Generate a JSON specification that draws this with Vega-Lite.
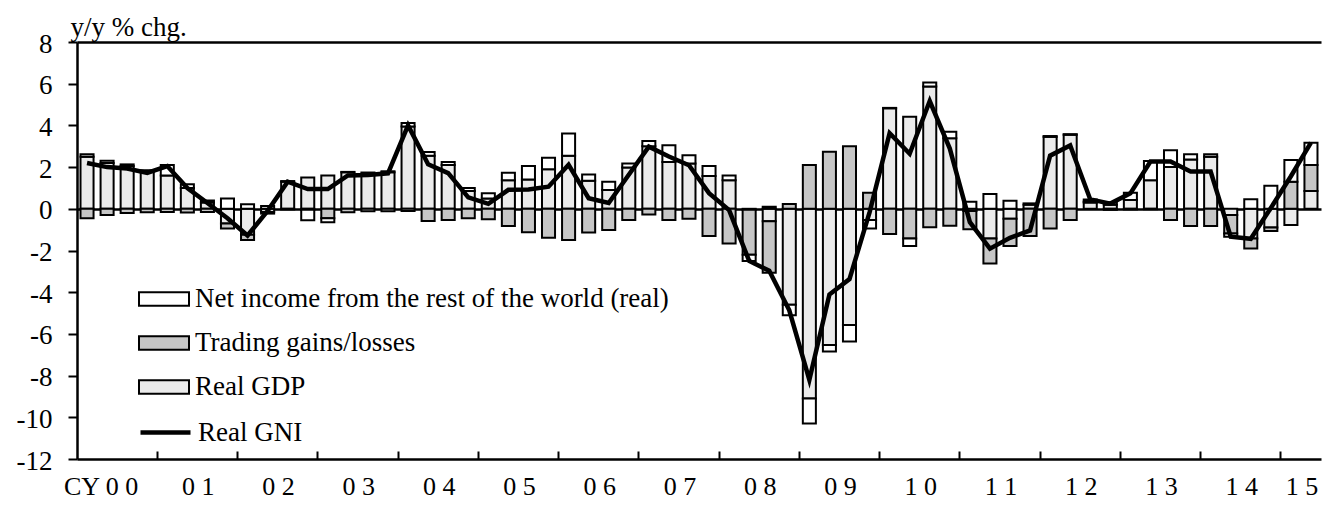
{
  "$schema": "https://vega.github.io/schema/vega-lite/v6.json",
  "width": 1244,
  "height": 417,
  "autosize": "none",
  "padding": {"left": 77, "top": 42, "right": 2, "bottom": 47},
  "background": "white",
  "config": {
    "view": {"stroke": null},
    "font": "Liberation Serif",
    "axis": {"labelFont": "Liberation Serif", "titleFont": "Liberation Serif", "labelColor": "black", "titleColor": "black"},
    "axisY": {
      "values": [-12, -10, -8, -6, -4, -2, 0, 2, 4, 6, 8],
      "title": "y/y % chg.",
      "titleAngle": 0,
      "titleAlign": "left",
      "titleBaseline": "alphabetic",
      "titleX": -7,
      "titleY": -7,
      "titleFontSize": 27,
      "titleFontWeight": "normal",
      "labelFontSize": 27,
      "labelPadding": 16,
      "labelOffset": 2,
      "tickSize": 9,
      "tickWidth": 2,
      "tickColor": "black",
      "domainColor": "black",
      "domainWidth": 2.5,
      "grid": true,
      "gridColor": "black",
      "gridWidth": 2.5,
      "zindex": 1
    },
    "legend": {"labelFont": "Liberation Serif", "labelColor": "black"}
  },
  "datasets": {
    "rows": [
      {"q": "2000Q1", "gdp": 2.5, "tg": -0.45, "ni": 0.12, "gni": 2.2},
      {"q": "2000Q2", "gdp": 2.2, "tg": -0.3, "ni": 0.1, "gni": 2.0},
      {"q": "2000Q3", "gdp": 2.05, "tg": -0.2, "ni": 0.08, "gni": 1.93},
      {"q": "2000Q4", "gdp": 1.8, "tg": -0.17, "ni": 0.05, "gni": 1.72},
      {"q": "2001Q1", "gdp": 1.6, "tg": -0.15, "ni": 0.5, "gni": 2.05},
      {"q": "2001Q2", "gdp": 1.0, "tg": -0.18, "ni": 0.18, "gni": 1.0},
      {"q": "2001Q3", "gdp": 0.3, "tg": -0.15, "ni": 0.1, "gni": 0.28},
      {"q": "2001Q4", "gdp": -0.7, "tg": -0.25, "ni": 0.5, "gni": -0.45},
      {"q": "2002Q1", "gdp": -1.25, "tg": -0.25, "ni": 0.22, "gni": -1.28},
      {"q": "2002Q2", "gdp": -0.15, "tg": -0.08, "ni": 0.13, "gni": -0.1},
      {"q": "2002Q3", "gdp": 1.3, "tg": -0.03, "ni": 0.03, "gni": 1.3},
      {"q": "2002Q4", "gdp": 1.5, "tg": -0.05, "ni": -0.5, "gni": 0.95},
      {"q": "2003Q1", "gdp": 1.6, "tg": -0.45, "ni": -0.2, "gni": 0.95},
      {"q": "2003Q2", "gdp": 1.75, "tg": -0.17, "ni": 0.02, "gni": 1.6},
      {"q": "2003Q3", "gdp": 1.68, "tg": -0.12, "ni": 0.06, "gni": 1.62},
      {"q": "2003Q4", "gdp": 1.75, "tg": -0.12, "ni": 0.05, "gni": 1.7},
      {"q": "2004Q1", "gdp": 3.95, "tg": -0.1, "ni": 0.17, "gni": 4.0},
      {"q": "2004Q2", "gdp": 2.55, "tg": -0.59, "ni": 0.18, "gni": 2.14},
      {"q": "2004Q3", "gdp": 2.1, "tg": -0.54, "ni": 0.15, "gni": 1.71},
      {"q": "2004Q4", "gdp": 0.85, "tg": -0.45, "ni": 0.15, "gni": 0.55},
      {"q": "2005Q1", "gdp": 0.5, "tg": -0.5, "ni": 0.24, "gni": 0.24},
      {"q": "2005Q2", "gdp": 1.37, "tg": -0.82, "ni": 0.36, "gni": 0.91},
      {"q": "2005Q3", "gdp": 1.4, "tg": -1.12, "ni": 0.65, "gni": 0.93},
      {"q": "2005Q4", "gdp": 1.9, "tg": -1.39, "ni": 0.55, "gni": 1.06},
      {"q": "2006Q1", "gdp": 2.54, "tg": -1.5, "ni": 1.07, "gni": 2.11},
      {"q": "2006Q2", "gdp": 1.34, "tg": -1.14, "ni": 0.31, "gni": 0.51},
      {"q": "2006Q3", "gdp": 0.9, "tg": -1.02, "ni": 0.4, "gni": 0.28},
      {"q": "2006Q4", "gdp": 1.98, "tg": -0.54, "ni": 0.19, "gni": 1.63},
      {"q": "2007Q1", "gdp": 3.0, "tg": -0.27, "ni": 0.25, "gni": 2.98},
      {"q": "2007Q2", "gdp": 2.25, "tg": -0.54, "ni": 0.8, "gni": 2.51},
      {"q": "2007Q3", "gdp": 2.17, "tg": -0.48, "ni": 0.4, "gni": 2.09},
      {"q": "2007Q4", "gdp": 1.57, "tg": -1.3, "ni": 0.48, "gni": 0.75},
      {"q": "2008Q1", "gdp": 1.37, "tg": -1.66, "ni": 0.23, "gni": -0.06},
      {"q": "2008Q2", "gdp": -0.05, "tg": -2.15, "ni": -0.3, "gni": -2.5},
      {"q": "2008Q3", "gdp": -0.6, "tg": -2.47, "ni": 0.1, "gni": -2.97},
      {"q": "2008Q4", "gdp": -4.6, "tg": 0.23, "ni": -0.5, "gni": -4.87},
      {"q": "2009Q1", "gdp": -9.1, "tg": 2.1, "ni": -1.2, "gni": -8.2},
      {"q": "2009Q2", "gdp": -6.53, "tg": 2.74, "ni": -0.32, "gni": -4.11},
      {"q": "2009Q3", "gdp": -5.57, "tg": 3.0, "ni": -0.8, "gni": -3.37},
      {"q": "2009Q4", "gdp": -0.54, "tg": 0.77, "ni": -0.4, "gni": -0.17},
      {"q": "2010Q1", "gdp": 4.82, "tg": -1.21, "ni": 0.02, "gni": 3.63},
      {"q": "2010Q2", "gdp": 4.42, "tg": -1.42, "ni": -0.36, "gni": 2.64},
      {"q": "2010Q3", "gdp": 5.86, "tg": -0.89, "ni": 0.2, "gni": 5.17},
      {"q": "2010Q4", "gdp": 3.38, "tg": -0.81, "ni": 0.32, "gni": 2.89},
      {"q": "2011Q1", "gdp": -0.1, "tg": -0.88, "ni": 0.34, "gni": -0.64},
      {"q": "2011Q2", "gdp": -1.42, "tg": -1.2, "ni": 0.71, "gni": -1.91},
      {"q": "2011Q3", "gdp": -0.48, "tg": -1.3, "ni": 0.39, "gni": -1.39},
      {"q": "2011Q4", "gdp": 0.2, "tg": -1.3, "ni": 0.06, "gni": -1.04},
      {"q": "2012Q1", "gdp": 3.45, "tg": -0.94, "ni": 0.04, "gni": 2.55},
      {"q": "2012Q2", "gdp": 3.55, "tg": -0.54, "ni": 0.03, "gni": 3.04},
      {"q": "2012Q3", "gdp": 0.3, "tg": 0.05, "ni": 0.1, "gni": 0.45},
      {"q": "2012Q4", "gdp": 0.2, "tg": -0.05, "ni": 0.1, "gni": 0.25},
      {"q": "2013Q1", "gdp": 0.42, "tg": -0.03, "ni": 0.35, "gni": 0.74},
      {"q": "2013Q2", "gdp": 1.37, "tg": -0.02, "ni": 0.92, "gni": 2.27},
      {"q": "2013Q3", "gdp": 2.01, "tg": -0.54, "ni": 0.8, "gni": 2.27},
      {"q": "2013Q4", "gdp": 2.37, "tg": -0.83, "ni": 0.25, "gni": 1.79},
      {"q": "2014Q1", "gdp": 2.5, "tg": -0.83, "ni": 0.12, "gni": 1.79},
      {"q": "2014Q2", "gdp": -0.3, "tg": -0.88, "ni": -0.16, "gni": -1.34},
      {"q": "2014Q3", "gdp": -1.42, "tg": -0.48, "ni": 0.46, "gni": -1.44},
      {"q": "2014Q4", "gdp": -0.9, "tg": -0.16, "ni": 1.1, "gni": 0.04},
      {"q": "2015Q1", "gdp": -0.78, "tg": 1.3, "ni": 1.04, "gni": 1.56},
      {"q": "2015Q2", "gdp": 0.85, "tg": 1.25, "ni": 1.07, "gni": 3.17}
    ]
  },
  "data": {"name": "rows"},
  "layer": [
    {
      "transform": [
        {"fold": ["gdp", "tg", "ni"], "as": ["key", "value"]},
        {"lookup": "key", "from": {"data": {"values": [
          {"key": "gdp", "label": "Real GDP", "rank": 1},
          {"key": "tg", "label": "Trading gains/losses", "rank": 2},
          {"key": "ni", "label": "Net income from the rest of the world (real)", "rank": 3}
        ]}, "key": "key", "fields": ["label", "rank"]}}
      ],
      "mark": {"type": "bar", "stroke": "black", "strokeWidth": 2, "width": {"band": 0.65}},
      "encoding": {
        "x": {
          "field": "q", "type": "ordinal",
          "scale": {"type": "band", "paddingInner": 0, "paddingOuter": 0},
          "axis": {
            "orient": "bottom",
            "values": ["2001Q1","2002Q1","2003Q1","2004Q1","2005Q1","2006Q1","2007Q1","2008Q1","2009Q1","2010Q1","2011Q1","2012Q1","2013Q1","2014Q1","2015Q1"],
            "bandPosition": 0,
            "labels": false,
            "title": null,
            "ticks": true,
            "tickSize": -8,
            "tickWidth": 2,
            "tickColor": "black",
            "domainColor": "black",
            "domainWidth": 2.5,
            "grid": false,
            "zindex": 1
          }
        },
        "y": {
          "field": "value", "type": "quantitative", "stack": "zero",
          "scale": {"domain": [-12, 8], "nice": false, "zero": false},
          "axis": {
            "title": "y/y % chg.",
            "labelExpr": "datum.value + ''",
            "gridOpacity": {"condition": {"test": "datum.value == 0 || datum.value == 8", "value": 1}, "value": 0}
          }
        },
        "fill": {
          "field": "label", "type": "nominal",
          "scale": {
            "domain": ["Net income from the rest of the world (real)", "Trading gains/losses", "Real GDP"],
            "range": ["#ffffff", "#c6c6c6", "#ebebeb"]
          },
          "legend": {
            "orient": "none",
            "legendX": 61,
            "legendY": 231,
            "title": null,
            "padding": 0,
            "symbolType": "M-1,-0.27H1V0.27H-1Z",
            "symbolSize": 2500,
            "symbolStrokeColor": "black",
            "symbolStrokeWidth": 2,
            "labelFontSize": 27,
            "labelOffset": 5,
            "labelLimit": 0,
            "rowPadding": 5
          }
        },
        "order": {"field": "rank", "type": "quantitative", "sort": "ascending"}
      }
    },
    {
      "mark": {"type": "line", "strokeWidth": 4.5, "interpolate": "linear"},
      "encoding": {
        "x": {
          "field": "q", "type": "ordinal",
          "scale": {"type": "band", "paddingInner": 0, "paddingOuter": 0},
          "axis": {
            "orient": "bottom",
            "values": ["2000Q2","2001Q2","2002Q2","2003Q2","2004Q2","2005Q2","2006Q2","2007Q2","2008Q2","2009Q2","2010Q2","2011Q2","2012Q2","2013Q2","2014Q2","2015Q1"],
            "bandPosition": 1,
            "ticks": false,
            "domain": false,
            "title": null,
            "grid": false,
            "labelAngle": 0,
            "labelOverlap": false,
            "labelFontSize": 26,
            "labelPadding": 14,
            "labelExpr": "datum.value == '2000Q2' ? 'CY  0 0' : substring(datum.value, 2, 3) + ' ' + substring(datum.value, 3, 4)",
            "labelOffset": {"condition": {"test": "datum.value == '2000Q2'", "value": -6}, "value": 11}
          }
        },
        "y": {
          "field": "gni", "type": "quantitative",
          "axis": {
            "title": "y/y % chg.",
            "labelExpr": "datum.value + ''",
            "gridOpacity": {"condition": {"test": "datum.value == 0 || datum.value == 8", "value": 1}, "value": 0}
          }
        },
        "stroke": {
          "datum": "Real GNI", "type": "nominal",
          "scale": {"range": ["black"]},
          "legend": {
            "orient": "none",
            "legendX": 61,
            "legendY": 363,
            "title": null,
            "padding": 0,
            "symbolType": "stroke",
            "symbolSize": 2500,
            "symbolStrokeWidth": 4.5,
            "labelFontSize": 27,
            "labelOffset": 5,
            "labelLimit": 0
          }
        }
      }
    }
  ],
  "resolve": {"axis": {"x": "independent"}}
}
